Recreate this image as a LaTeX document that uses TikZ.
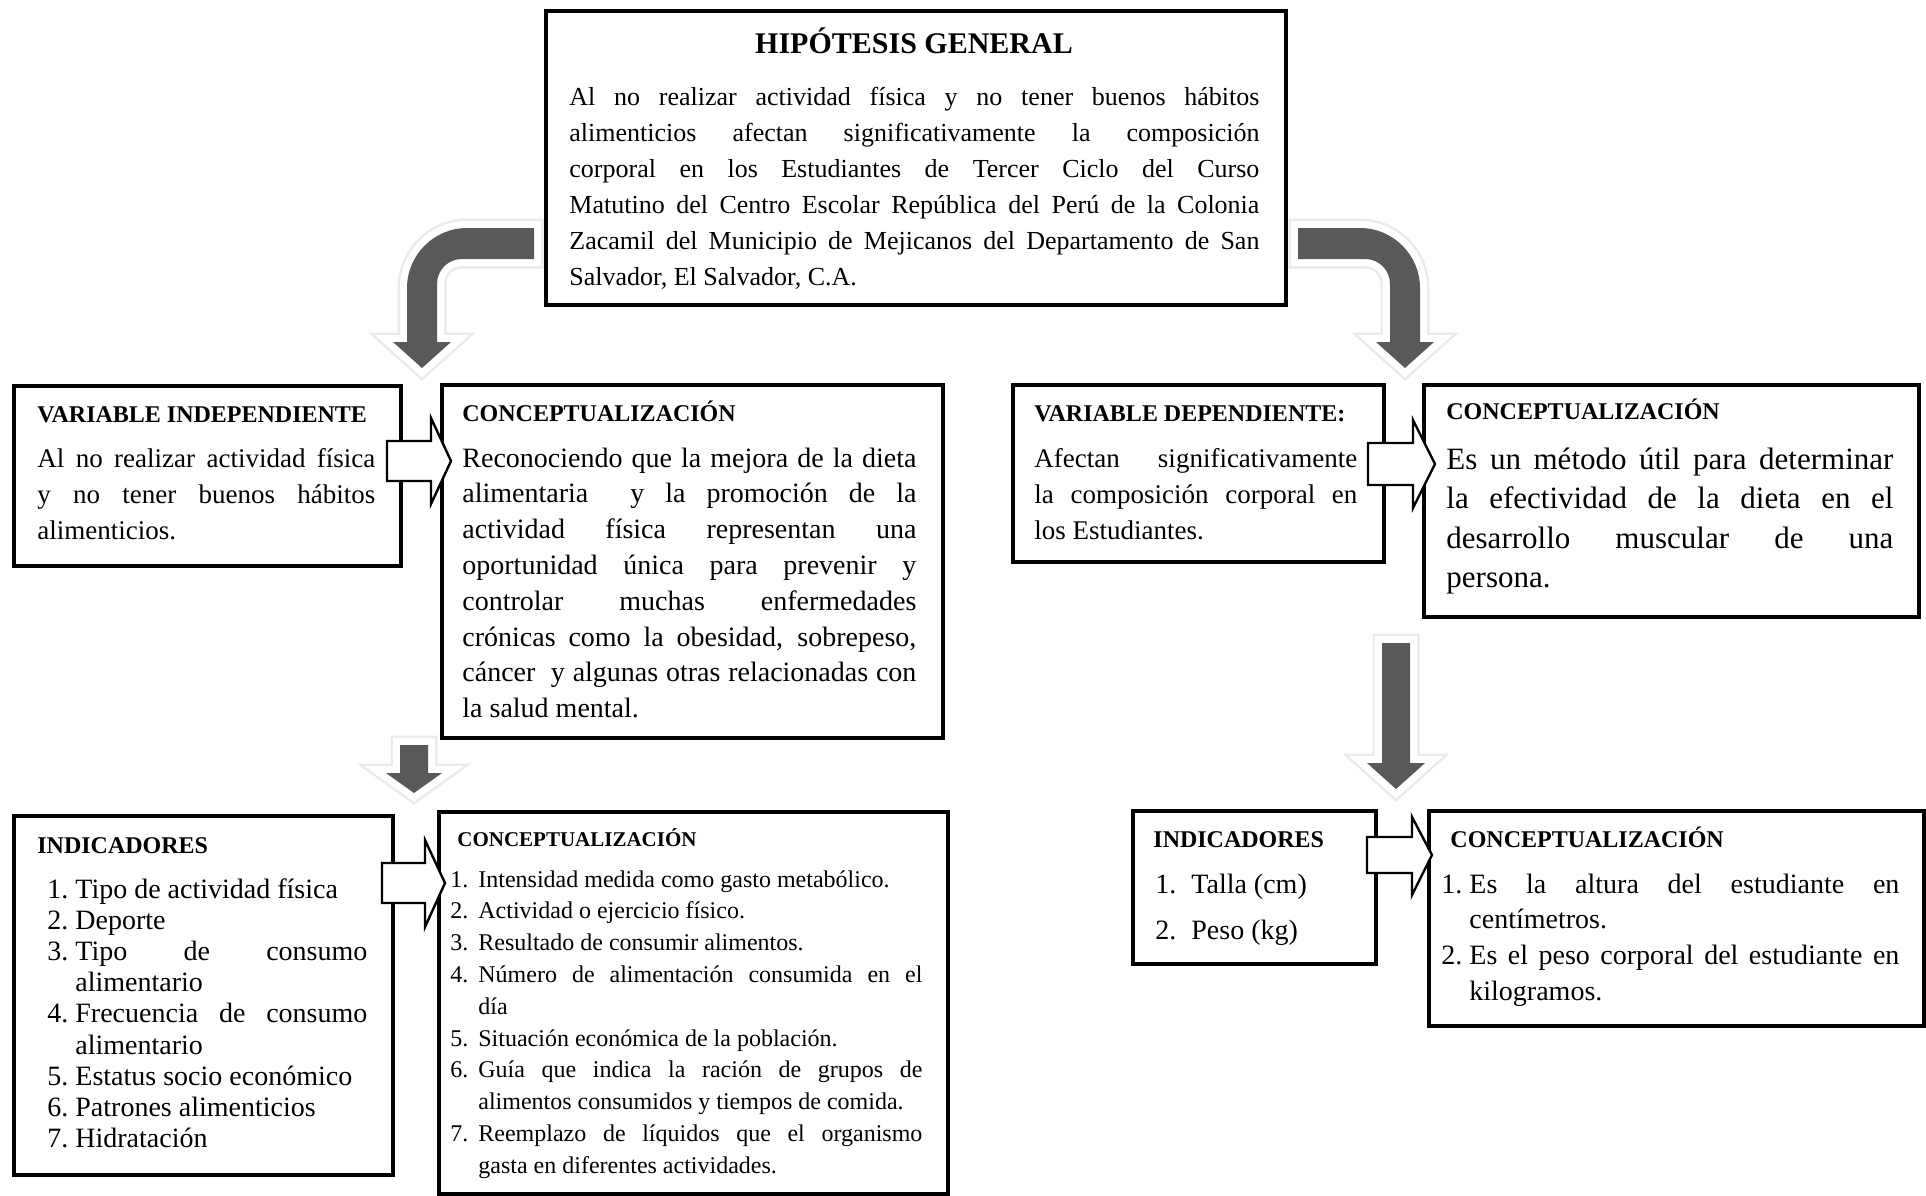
\documentclass[tikz,border=0pt]{standalone}
\usepackage{fontspec}
\setmainfont{Liberation Serif}
\definecolor{arrowgray}{HTML}{595959}
\newlength{\numwd}
\newcommand{\lstitem}[2]{\par\hangindent=\numwd\hangafter=1\noindent\makebox[\numwd][l]{#1}#2}
\tolerance=10000
\hbadness=10000
\tikzset{
  box/.style={draw=black, line width=2pt, fill=white, inner sep=0pt, anchor=north west},
  txt/.style={anchor=base west, inner sep=0pt},
  ttl/.style={anchor=base west, inner sep=0pt, font=\fontsize{12}{14}\selectfont\bfseries},
  darkarrow/.style={fill=arrowgray,
    preaction={draw=black!8, line width=9.5pt, line join=miter},
    preaction={draw=white, line width=7pt, line join=miter}},
  blockarrow/.style={draw=black, fill=white, line width=1.2pt, line join=miter}
}
\begin{document}
\begin{tikzpicture}[x=0.5pt, y=-0.5pt]
    \useasboundingbox (0,0) rectangle (1926,1195);

    % cajas
    \node[box, minimum width=370pt, minimum height=147pt] (hip) at (544,9) {};
    \node[box, minimum width=193.5pt, minimum height=90pt] (vind) at (12,384) {};
    \node[box, minimum width=250.5pt, minimum height=176.5pt] (conca) at (440,383) {};
    \node[box, minimum width=185.5pt, minimum height=88.5pt] (vdep) at (1011,383) {};
    \node[box, minimum width=247.5pt, minimum height=116pt] (concb) at (1422,383) {};
    \node[box, minimum width=189.5pt, minimum height=179.5pt] (inda) at (12,814) {};
    \node[box, minimum width=254.5pt, minimum height=191pt] (concc) at (437,810) {};
    \node[box, minimum width=121.5pt, minimum height=76.5pt] (indb) at (1131,809) {};
    \node[box, minimum width=247.5pt, minimum height=107.5pt] (concd) at (1427,809) {};

    % hipotesis
    \node[anchor=base, inner sep=0pt, font=\fontsize{15}{18}\selectfont\bfseries] (hiptitle) at (914,53) {HIPÓTESIS GENERAL};
    \node[txt] (hiptext) at (569,105) {\parbox[t]{345pt}{\fontsize{13}{18}\selectfont
      Al no realizar actividad física y no tener buenos hábitos \linebreak
      alimenticios afectan significativamente la composición \linebreak
      corporal en los Estudiantes de Tercer Ciclo del Curso \linebreak
      Matutino del Centro Escolar República del Perú de la Colonia \linebreak
      Zacamil del Municipio de Mejicanos del Departamento de San \linebreak
      Salvador, El Salvador, C.A.}};

    % variable independiente
    \node[ttl] (vindtitle) at (37,422) {VARIABLE INDEPENDIENTE};
    \node[txt] (vindtext) at (37,467) {\parbox[t]{169pt}{\fontsize{13.5}{18}\selectfont
      Al no realizar actividad física \linebreak
      y no tener buenos hábitos \linebreak
      alimenticios.}};

    \node[ttl] (concatitle) at (462,421) {CONCEPTUALIZACIÓN};
    \node[txt] (concatext) at (462,467) {\parbox[t]{227pt}{\fontsize{14}{17.9}\selectfont
      Reconociendo que la mejora de la dieta \linebreak
      alimentaria~ y la promoción de la \linebreak
      actividad física representan una \linebreak
      oportunidad única para prevenir y \linebreak
      controlar muchas enfermedades \linebreak
      crónicas como la obesidad, sobrepeso, \linebreak
      cáncer~ y algunas otras relacionadas con \linebreak
      la salud mental.}};

    % variable dependiente
    \node[ttl] (vdeptitle) at (1034,421) {VARIABLE DEPENDIENTE:};
    \node[txt] (vdeptext) at (1034,467) {\parbox[t]{161.5pt}{\fontsize{13.5}{18}\selectfont
      Afectan significativamente \linebreak
      la composición corporal en \linebreak
      los Estudiantes.}};

    \node[ttl] (concbtitle) at (1446,419) {CONCEPTUALIZACIÓN};
    \node[txt] (concbtext) at (1446,469) {\parbox[t]{223.5pt}{\fontsize{15.5}{19.8}\selectfont
      Es un método útil para determinar \linebreak
      la efectividad de la dieta en el \linebreak
      desarrollo muscular de una \linebreak
      persona.}};

    % indicadores
    \node[ttl] (indatitle) at (37,853) {INDICADORES};
    \node[txt] (indatext) at (47,898) {\parbox[t]{160pt}{\fontsize{14}{15.6}\selectfont\setlength{\numwd}{14pt}%
      \lstitem{1.}{Tipo de actividad física}
      \lstitem{2.}{Deporte}
      \lstitem{3.}{Tipo de consumo \linebreak alimentario}
      \lstitem{4.}{Frecuencia de consumo \linebreak alimentario}
      \lstitem{5.}{Estatus socio económico}
      \lstitem{6.}{Patrones alimenticios}
      \lstitem{7.}{Hidratación}}};

    \node[anchor=base west, inner sep=0pt, font=\fontsize{10.5}{12}\selectfont\bfseries] (concctitle) at (457,846) {CONCEPTUALIZACIÓN};
    \node[txt] (concctext) at (450,887) {\parbox[t]{236pt}{\fontsize{12}{15.9}\selectfont\setlength{\numwd}{14pt}%
      \lstitem{1.}{Intensidad medida como gasto metabólico.}
      \lstitem{2.}{Actividad o ejercicio físico.}
      \lstitem{3.}{Resultado de consumir alimentos.}
      \lstitem{4.}{Número de alimentación consumida en el \linebreak día}
      \lstitem{5.}{Situación económica de la población.}
      \lstitem{6.}{Guía que indica la ración de grupos de \linebreak alimentos consumidos y tiempos de comida.}
      \lstitem{7.}{Reemplazo de líquidos que el organismo \linebreak gasta en diferentes actividades.}}};

    \node[ttl] (indbtitle) at (1153,847) {INDICADORES};
    \node[txt] (indbtext) at (1155,893) {\parbox[t]{100pt}{\fontsize{14}{23}\selectfont\setlength{\numwd}{18pt}%
      \lstitem{1.}{Talla (cm)}
      \lstitem{2.}{Peso (kg)}}};

    \node[ttl] (concdtitle) at (1450,847) {CONCEPTUALIZACIÓN};
    \node[txt] (concdtext) at (1441,893) {\parbox[t]{229pt}{\fontsize{14}{17.9}\selectfont\setlength{\numwd}{14pt}%
      \lstitem{1.}{Es la altura del estudiante en \linebreak centímetros.}
      \lstitem{2.}{Es el peso corporal del estudiante en \linebreak kilogramos.}}};

    % flechas grises
    \path[darkarrow] (534,228) -- (467,228) .. controls (434,228) and (407,255) .. (407,288)
        -- (407,342) -- (393,342) -- (422,368) -- (451,342) -- (437,342) -- (437,284)
        .. controls (437,270) and (448,259) .. (462,259) -- (534,259) -- cycle;
    \path[darkarrow] (1298,228) -- (1360,228) .. controls (1393,228) and (1420,255) .. (1420,288)
        -- (1420,342) -- (1434,342) -- (1405,368) -- (1376,342) -- (1390,342) -- (1390,284)
        .. controls (1390,270) and (1379,259) .. (1365,259) -- (1298,259) -- cycle;
    \path[darkarrow] (400,745) -- (428,745) -- (428,773) -- (442,773) -- (414,793)
        -- (386,773) -- (400,773) -- cycle;
    \path[darkarrow] (1382,643) -- (1410,643) -- (1410,763) -- (1425,763) -- (1396,789)
        -- (1367,763) -- (1382,763) -- cycle;

    % flechas blancas
    \draw[blockarrow] (387,441) -- (431,441) -- (431,418) -- (451,461) -- (431,504) -- (431,481) -- (387,481) -- cycle;
    \draw[blockarrow] (1368,443) -- (1413,443) -- (1413,420) -- (1435,464) -- (1413,508) -- (1413,485) -- (1368,485) -- cycle;
    \draw[blockarrow] (382,863) -- (425,863) -- (425,840) -- (445,883) -- (425,927) -- (425,903) -- (382,903) -- cycle;
    \draw[blockarrow] (1367,837) -- (1412,837) -- (1412,817) -- (1432,855) -- (1412,895) -- (1412,873) -- (1367,873) -- cycle;
\end{tikzpicture}
\end{document}
